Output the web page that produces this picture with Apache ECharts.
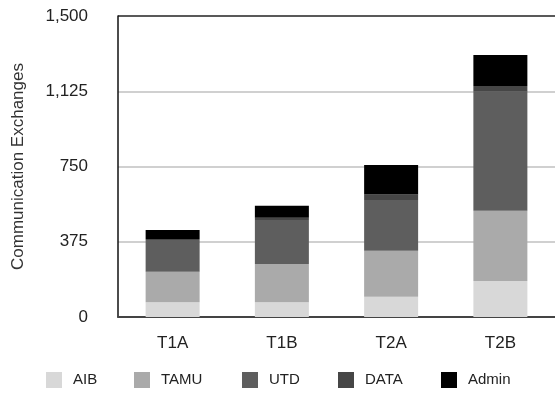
<!DOCTYPE html>
<html>
<head>
<meta charset="utf-8">
<script src="https://cdn.jsdelivr.net/npm/echarts@6/dist/echarts.min.js"></script>
<style>
  html, body { margin: 0; padding: 0; background: #fff; }
  #chart { width: 555px; height: 394px; }
</style>
</head>
<body>
<div id="chart"></div>
<script>
// Communication exchanges per phase, stacked by group
const categories = ['T1A', 'T1B', 'T2A', 'T2B'];
const seriesNames = ['AIB', 'TAMU', 'UTD', 'DATA', 'Admin'];
const aib   = [73, 73, 101, 179];
const tamu  = [153, 191, 229, 351];
const utd   = [158, 219, 253, 593];
const dataG = [5, 12, 28, 28];
const admin = [45, 60, 146, 155];
const yTicks = [0, 375, 750, 1125, 1500];

const values = [aib, tamu, utd, dataG, admin];
const colors = ['#d8d8d8', '#aaaaaa', '#5e5e5e', '#464646', '#000000'];
const font = '"Liberation Sans", Arial, Helvetica, sans-serif';

const chart = echarts.init(document.getElementById('chart'));

// one legend block per entry so each can sit at its own x position
const legendLefts = [46, 134, 242, 338, 441];
const legends = seriesNames.map((n, i) => ({
  data: [n],
  left: legendLefts[i],
  top: 372,
  padding: 0,
  itemWidth: 16,
  itemHeight: 16,
  itemGap: 0,
  icon: 'rect',
  selectedMode: false,
  textStyle: { fontFamily: font, fontSize: 15, color: '#222', padding: [0, 0, 0, 6] }
}));

chart.setOption({
  animation: false,
  textStyle: { fontFamily: font },
  legend: legends,
  grid: { left: 118, right: 0, top: 16, bottom: 77 },
  xAxis: {
    type: 'category',
    data: categories,
    axisTick: { show: false },
    axisLine: { lineStyle: { color: '#444', width: 2 } },
    axisLabel: { color: '#222', fontSize: 17, margin: 18 }
  },
  yAxis: {
    type: 'value',
    min: yTicks[0],
    max: yTicks[yTicks.length - 1],
    interval: yTicks[1] - yTicks[0],
    name: 'Communication Exchanges',
    nameLocation: 'middle',
    nameGap: 91,
    nameTextStyle: { color: '#333', fontSize: 17 },
    axisLine: { show: true, lineStyle: { color: '#111', width: 1.5 } },
    axisTick: { show: false },
    axisLabel: {
      color: '#222',
      fontSize: 17,
      margin: 30,
      formatter: v => v.toLocaleString('en-US')
    },
    splitLine: {
      lineStyle: { color: ['#444', '#c0c0c0', '#c0c0c0', '#c0c0c0', '#222'], width: 1.5 }
    }
  },
  series: seriesNames.map((n, i) => ({
    name: n,
    type: 'bar',
    stack: 'total',
    barWidth: 54,
    data: values[i],
    itemStyle: { color: colors[i] }
  }))
});
</script>
</body>
</html>
